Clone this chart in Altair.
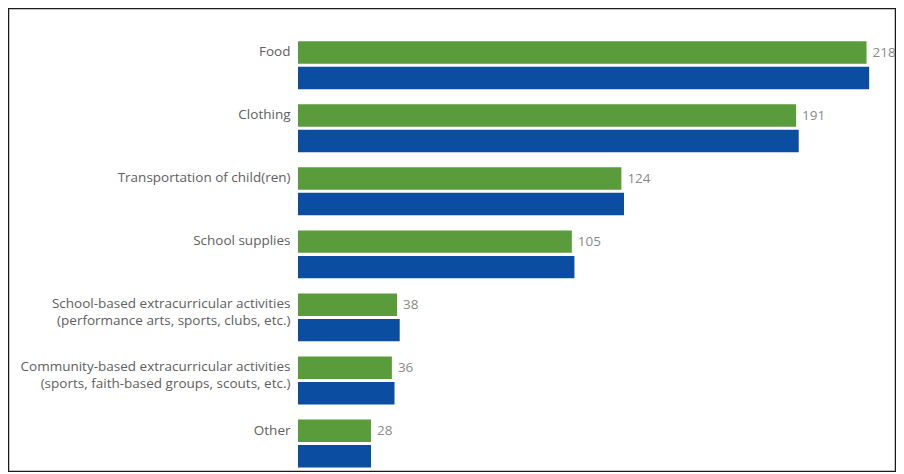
import altair as alt
import pandas as pd

categories = [
    "Food",
    "Clothing",
    "Transportation of child(ren)",
    "School supplies",
    "School-based extracurricular activities\n(performance arts, sports, clubs, etc.)",
    "Community-based extracurricular activities\n(sports, faith-based groups, scouts, etc.)",
    "Other",
]
series_names = ["Series 1", "Series 2"]
green_values = [218, 191, 124, 105, 38, 36, 28]
blue_values = [219, 192, 125, 106, 39, 37, 28]
colors = ["#5a9c3b", "#0b4da1"]

rows = []
for c, g, b in zip(categories, green_values, blue_values):
    rows.append({"category": c, "series": series_names[0], "value": g})
    rows.append({"category": c, "series": series_names[1], "value": b})
df = pd.DataFrame(rows)

y_enc = alt.Y(
    "category:N",
    sort=categories,
    title=None,
    scale=alt.Scale(paddingInner=0.24, paddingOuter=0.30, align=0.88),
    axis=alt.Axis(
        orient="left",
        offset=-282,
        domain=False,
        ticks=False,
        labelPadding=0,
        labelOffset=-13,
        labelFont="Open Sans",
        labelFontSize=13.5,
        labelColor="#606060",
        labelLineHeight=17,
        labelLimit=400,
        labelExpr="split(datum.label, '\\n')",
    ),
)
x_enc = alt.X(
    "value:Q",
    axis=None,
    scale=alt.Scale(domain=[0, 229.3], range=[290, 888], nice=False),
)
yoff = alt.YOffset("series:N", sort=series_names, scale=alt.Scale(paddingInner=0.12))

bars = alt.Chart(df).mark_bar().encode(
    y=y_enc,
    x=x_enc,
    yOffset=yoff,
    color=alt.Color(
        "series:N",
        scale=alt.Scale(domain=series_names, range=colors),
        legend=None,
    ),
)

labels = (
    alt.Chart(df)
    .transform_filter(alt.datum.series == series_names[0])
    .mark_text(align="left", baseline="middle", dx=6, font="Open Sans", fontSize=13.5, color="#8a8a8a")
    .encode(y=y_enc, x=x_enc, yOffset=yoff, text="value:Q")
)

chart = (
    alt.layer(bars, labels)
    .properties(
        width=888,
        height=464,
        padding=0,
        background="white",
        autosize=alt.AutoSizeParams(type="none"),
    )
    .configure_view(stroke="#1a1a1a", strokeWidth=2.5)
)

chart.save("out.html", embed_options={"renderer": "svg", "actions": False})
